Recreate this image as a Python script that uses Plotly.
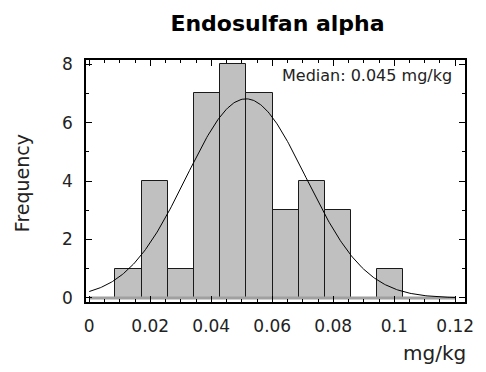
import numpy as np
import plotly.graph_objects as go

# Histogram data
bin_start = 0.0086
bin_width = 0.00858
counts = [1, 4, 1, 7, 8, 7, 3, 4, 3, 0, 1]

# Fitted normal curve parameters
fit_mean = 0.0514
fit_sd = 0.0196
n_obs = sum(counts)

title_text = "Endosulfan alpha"
median_text = "Median: 0.045 mg/kg"
x_ticks = [0, 0.02, 0.04, 0.06, 0.08, 0.1, 0.12]
x_tick_labels = ["0", "0.02", "0.04", "0.06", "0.08", "0.1", "0.12"]
y_ticks = [0, 2, 4, 6, 8]

centers = [bin_start + bin_width * (i + 0.5) for i in range(len(counts))]
xs = np.linspace(0, 0.12, 300)
ys = n_obs * bin_width / (fit_sd * np.sqrt(2 * np.pi)) * np.exp(-0.5 * ((xs - fit_mean) / fit_sd) ** 2)

FONT = "DejaVu Sans"

fig = go.Figure()
fig.add_trace(go.Scatter(x=[0, 0.12], y=[0, 0], mode="lines",
                         line=dict(color="#a0a0a0", width=3), hoverinfo="skip"))
fig.add_trace(go.Bar(x=centers, y=counts, width=bin_width,
                     marker=dict(color="#c0c0c0", line=dict(color="#1a1a1a", width=1))))
fig.add_trace(go.Scatter(x=xs, y=ys, mode="lines", line=dict(color="black", width=1)))

fig.update_layout(
    width=486, height=372,
    margin=dict(l=86, r=17, t=60, b=70),
    paper_bgcolor="white", plot_bgcolor="white",
    showlegend=False,
    font=dict(family=FONT, size=15, color="#222"),
    title=dict(text="<b>" + title_text + "</b>", x=(86 + 469) / 2 / 486, xanchor="center",
               y=1 - 23 / 372, yanchor="middle", font=dict(size=22, color="black")),
    bargap=0,
)
fig.update_xaxes(range=[-0.00107, 0.1232], tickvals=x_ticks, ticktext=x_tick_labels,
                 showgrid=False, zeroline=False, showline=True, linecolor="black", linewidth=1.5,
                 mirror="ticks", ticks="inside", ticklen=6, tickwidth=1, tickcolor="black",
                 minor=dict(dtick=0.005, tick0=0, ticks="inside", ticklen=3, tickcolor="black", showgrid=False),
                 tickfont=dict(size=17), ticklabelstandoff=8)
fig.update_yaxes(range=[-0.14, 8.14], tickvals=y_ticks,
                 showgrid=False, zeroline=False, showline=True, linecolor="black", linewidth=1.5,
                 mirror="ticks", ticks="inside", ticklen=6, tickwidth=1, tickcolor="black",
                 minor=dict(dtick=1, tick0=0, ticks="inside", ticklen=3, tickcolor="black", showgrid=False),
                 tickfont=dict(size=17), ticklabelstandoff=8)
fig.add_annotation(text=median_text, xref="paper", yref="paper", x=0.971, y=0.938,
                   xanchor="right", yanchor="middle", showarrow=False, font=dict(size=16, color="#222"))
fig.add_annotation(text="Frequency", xref="paper", yref="paper", x=-0.167, y=0.49,
                   xanchor="center", yanchor="middle", textangle=-90, showarrow=False,
                   font=dict(size=19, color="#222"))
fig.add_annotation(text="mg/kg", xref="paper", yref="paper", x=1.008, y=-0.211,
                   xanchor="right", yanchor="middle", showarrow=False,
                   font=dict(size=20, color="#222"))
fig.write_html("out.html")
